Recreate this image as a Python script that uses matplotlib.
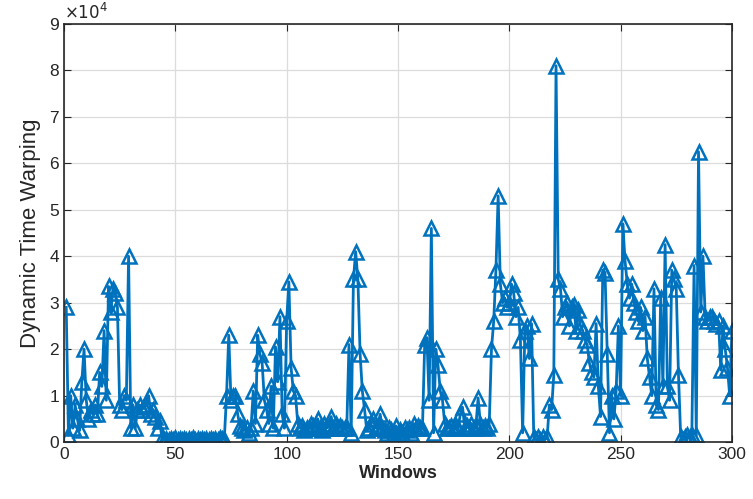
import matplotlib
matplotlib.use("Agg")
import matplotlib.pyplot as plt
import numpy as np

plt.rcParams['font.family'] = ['Liberation Sans', 'DejaVu Sans']

# Window index (1..300)
windows = list(range(1, 301))

# DTW values in units of 1e4
dtw_1_50 = [2.9, 0.15, 1.0, 0.3, 0.8, 0.5, 0.25, 1.3, 2.0, 0.9,
            0.5, 0.7, 0.6, 0.8, 0.6, 1.5, 1.2, 2.4, 0.9, 3.35,
            2.8, 3.3, 3.2, 2.9, 0.8, 0.7, 1.0, 0.9, 4.0, 0.3,
            0.8, 0.3, 0.7, 0.8, 0.7, 0.75, 0.8, 1.0, 0.6, 0.7,
            0.55, 0.3, 0.45, 0.08, 0.05, 0.07, 0.04, 0.06, 0.05, 0.08]
dtw_51_100 = [0.05, 0.06, 0.04, 0.07, 0.05, 0.06, 0.05, 0.08, 0.04, 0.06,
              0.05, 0.07, 0.05, 0.06, 0.04, 0.07, 0.05, 0.06, 0.05, 0.08,
              0.06, 0.07, 1.0, 2.3, 0.9, 1.0, 1.0, 0.6, 0.35, 0.3,
              0.25, 0.3, 0.2, 0.3, 1.1, 0.4, 2.3, 1.9, 1.7, 0.9,
              0.7, 0.4, 1.2, 0.3, 2.05, 1.3, 2.7, 0.6, 0.3, 2.6]
dtw_101_150 = [3.45, 1.6, 1.1, 1.0, 0.4, 0.3, 0.35, 0.25, 0.3, 0.3,
               0.4, 0.35, 0.3, 0.5, 0.3, 0.25, 0.4, 0.3, 0.35, 0.55,
               0.3, 0.4, 0.3, 0.35, 0.3, 0.3, 0.3, 2.1, 0.2, 3.5,
               4.1, 3.5, 1.9, 1.1, 0.7, 0.25, 0.3, 0.4, 0.5, 0.3,
               0.35, 0.6, 0.3, 0.25, 0.2, 0.3, 0.25, 0.2, 0.35, 0.2]
dtw_151_200 = [0.25, 0.2, 0.3, 0.25, 0.3, 0.2, 0.4, 0.3, 0.35, 0.3,
               0.3, 2.1, 2.25, 0.9, 4.6, 0.2, 2.0, 1.65, 1.1, 0.9,
               0.4, 0.3, 0.3, 0.35, 0.3, 0.35, 0.3, 0.6, 0.75, 0.3,
               0.35, 0.3, 0.4, 0.3, 0.35, 0.95, 0.4, 0.3, 0.35, 0.3,
               0.4, 2.0, 2.6, 3.7, 5.3, 3.4, 3.0, 3.1, 2.9, 3.0]
dtw_201_250 = [3.4, 3.2, 2.7, 2.9, 2.2, 0.2, 2.4, 2.5, 1.8, 2.55,
               0.1, 0.05, 0.1, 0.05, 0.1, 0.05, 0.1, 0.8, 0.7, 1.45,
               8.1, 3.5, 3.3, 2.7, 2.9, 3.0, 2.5, 2.9, 2.95, 2.4,
               2.85, 2.5, 2.4, 2.2, 2.1, 1.7, 1.5, 1.4, 2.55, 1.2,
               0.55, 3.7, 3.65, 1.9, 0.2, 1.0, 0.5, 1.1, 2.5, 1.0]
dtw_251_300 = [4.7, 3.9, 3.4, 3.1, 3.4, 3.0, 2.8, 2.6, 2.9, 2.4,
               2.7, 1.8, 1.4, 1.0, 3.3, 0.8, 0.7, 3.1, 1.2, 4.25,
               1.2, 0.9, 3.7, 3.5, 3.3, 1.45, 0.1, 0.05, 0.1, 0.15,
               0.1, 0.15, 3.8, 0.15, 6.25, 2.8, 4.0, 2.7, 2.6, 2.7,
               2.7, 2.6, 2.55, 2.6, 1.55, 2.5, 2.0, 1.6, 1.0, 2.4]

dtw = np.array(dtw_1_50 + dtw_51_100 + dtw_101_150 + dtw_151_200
               + dtw_201_250 + dtw_251_300) * 1e4

x_ticks = [0, 50, 100, 150, 200, 250, 300]
y_ticks = [0, 1, 2, 3, 4, 5, 6, 7, 8, 9]
y_ticklabels = [str(v) for v in y_ticks]

fig = plt.figure(figsize=(7.53, 4.99), dpi=100)
ax = fig.add_axes([0.085, 0.114, 0.887, 0.838])

ax.plot(windows, dtw, color='#0072BD', linewidth=2.0, marker='^',
        markersize=10, markerfacecolor='none', markeredgewidth=1.8,
        markeredgecolor='#0072BD')

ax.set_xlim(0, 300)
ax.set_ylim(0, 9e4)
ax.set_xticks(x_ticks)
ax.set_yticks([v * 1e4 for v in y_ticks])
ax.set_yticklabels(y_ticklabels)
ax.tick_params(direction='in', length=5, labelsize=12.5, colors='#262626',
               top=True, right=True)
ax.grid(True, color='#dcdcdc', linewidth=0.9)
ax.set_axisbelow(True)
for s in ax.spines.values():
    s.set_color('#262626')
    s.set_linewidth(1.2)

ax.set_xlabel('Windows', fontsize=13, fontweight='bold', color='#262626',
              labelpad=2)
ax.set_ylabel('Dynamic Time Warping', fontsize=16, color='#262626',
              family=['Liberation Sans Narrow', 'Liberation Sans', 'DejaVu Sans'],
              labelpad=6)
ax.text(0.0, 1.005, r'$\times10^{4}$', transform=ax.transAxes,
        fontsize=12, color='#262626', ha='left', va='bottom')

fig.savefig('out.png', dpi=100)
